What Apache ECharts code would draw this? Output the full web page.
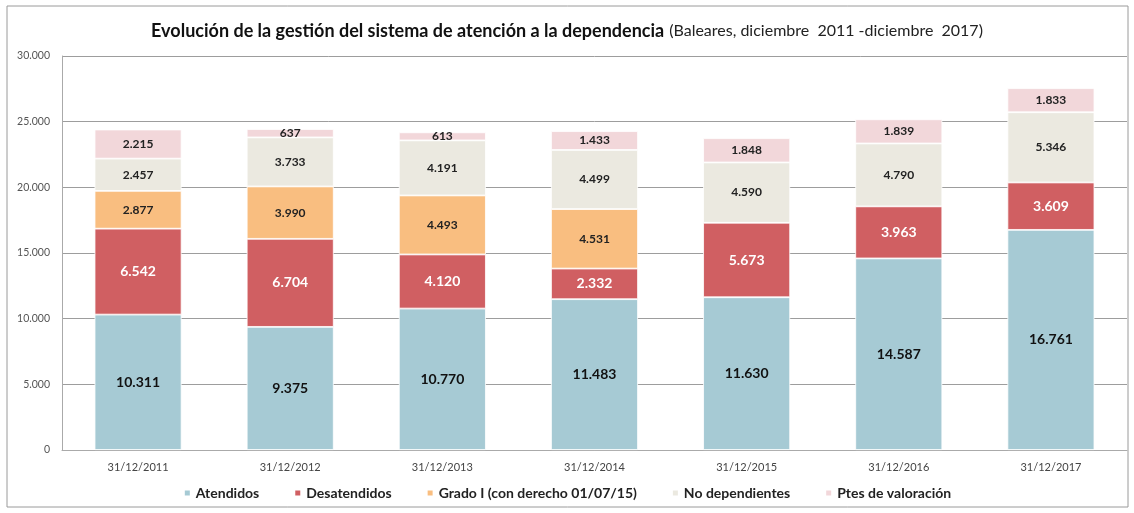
<!DOCTYPE html>
<html>
<head>
<meta charset="utf-8">
<script src="https://cdn.jsdelivr.net/npm/echarts@6/dist/echarts.min.js"></script>
<style>
  html, body { margin: 0; padding: 0; background: #fff; }
  #chart { width: 1134px; height: 513px; }
</style>
</head>
<body>
<div id="chart"></div>
<script>
// datos
const categories = ['31/12/2011', '31/12/2012', '31/12/2013', '31/12/2014', '31/12/2015', '31/12/2016', '31/12/2017'];
const atendidos = [10311, 9375, 10770, 11483, 11630, 14587, 16761];
const desatendidos = [6542, 6704, 4120, 2332, 5673, 3963, 3609];
const gradoI = [2877, 3990, 4493, 4531, null, null, null];
const noDependientes = [2457, 3733, 4191, 4499, 4590, 4790, 5346];
const ptesValoracion = [2215, 637, 613, 1433, 1848, 1839, 1833];
const yTicks = [0, 5000, 10000, 15000, 20000, 25000, 30000];

const chart = echarts.init(document.getElementById('chart'));

function fmt(v) {
  return String(v).replace(/\B(?=(\d{3})+(?!\d))/g, '.');
}

function serie(name, data, color, textColor, size) {
  return {
    name: name,
    type: 'bar',
    stack: 'total',
    barWidth: 87,
    data: data,
    itemStyle: { color: color, borderColor: '#fff', borderWidth: 0.8 },
    label: {
      show: true,
      position: 'inside',
      color: textColor,
      fontFamily: 'Lato',
      fontWeight: 'bold',
      fontSize: size,
      formatter: p => (p.value == null ? '' : fmt(p.value))
    }
  };
}

const option = {
  backgroundColor: '#fff',
  animation: false,
  title: {
    left: 'center',
    top: 17,
    text: '{b|Evolución de la gestión del sistema de atención a la dependencia} {n|(Baleares, diciembre  2011 -diciembre  2017)}',
    textStyle: {
      fontWeight: 'normal',
      rich: {
        b: { fontFamily: 'Lato', fontWeight: 'bold', fontSize: 18, color: '#111' },
        n: { fontFamily: 'Lato', fontWeight: 'normal', fontSize: 16, color: '#222' }
      }
    }
  },
  graphic: [{
    type: 'rect',
    shape: { x: 7, y: 6, width: 1121, height: 501 },
    style: { fill: 'none', stroke: '#9a9a9a', lineWidth: 1 },
    silent: true
  }],
  legend: {
    bottom: 8,
    left: 'center',
    itemWidth: 7,
    itemHeight: 7,
    itemGap: 34,
    icon: 'rect',
    textStyle: { fontFamily: 'Lato', fontWeight: 'bold', fontSize: 14, color: '#222' }
  },
  grid: { left: 62, right: 7, top: 56, bottom: 63 },
  xAxis: {
    type: 'category',
    data: categories,
    axisTick: { show: false },
    axisLine: { lineStyle: { color: '#aaa' } },
    axisLabel: { color: '#444', fontFamily: 'Lato', fontSize: 11, margin: 12 }
  },
  yAxis: {
    type: 'value',
    min: yTicks[0],
    max: yTicks[yTicks.length - 1],
    interval: 5000,
    axisLine: { show: true, lineStyle: { color: '#aaa' } },
    splitLine: { lineStyle: { color: '#9d9d9d' } },
    axisLabel: { color: '#555', fontFamily: 'Lato', fontSize: 10.5, margin: 12, formatter: v => fmt(v) }
  },
  series: [
    serie('Atendidos', atendidos, '#a6cad4', '#111', 14),
    serie('Desatendidos', desatendidos, '#d05f62', '#fff', 14),
    serie('Grado I (con derecho 01/07/15)', gradoI, '#f9be80', '#222', 12),
    serie('No dependientes', noDependientes, '#ebe9e0', '#222', 12),
    serie('Ptes de valoración', ptesValoracion, '#f2d7da', '#222', 12)
  ]
};

chart.setOption(option);
window.addEventListener('resize', () => chart.resize());
</script>
</body>
</html>
